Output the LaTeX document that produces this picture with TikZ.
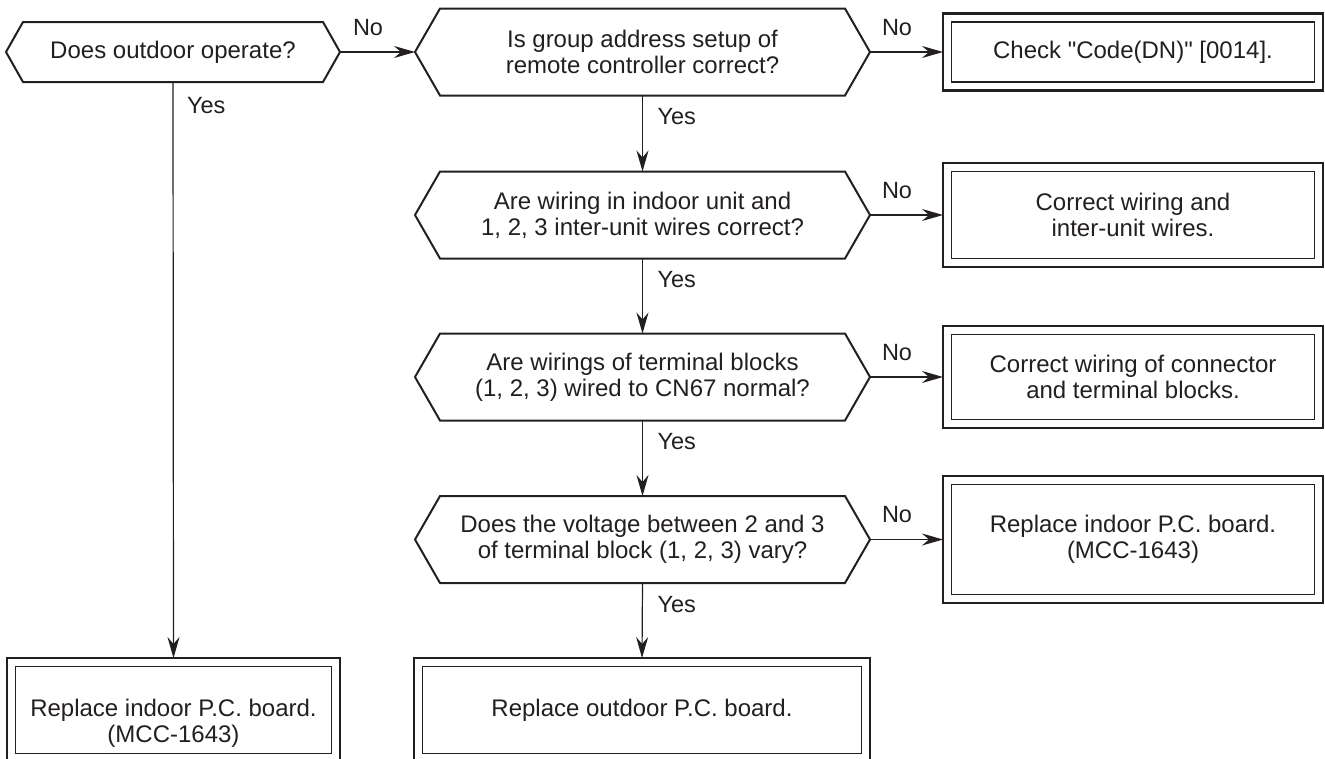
\documentclass[tikz,border=0pt]{standalone}
\usepackage{fontspec}
\setmainfont{Liberation Sans}
\usetikzlibrary{arrows.meta}
\definecolor{ink}{HTML}{231F20}
\begin{document}
\begin{tikzpicture}[x=1pt,y=-1pt,
  every node/.style={font=\fontsize{24}{26}\selectfont, text=ink, align=center, outer sep=0pt},
  decbox/.style={minimum width=455pt, minimum height=87pt, inner sep=0pt},
  decline/.style={draw=ink, line width=2pt, line join=miter},
  outbox/.style={draw=ink, line width=2.5pt, inner sep=0pt, minimum width=380pt},
  inline/.style={draw=ink, line width=1.1pt},
  conn/.style={draw=ink, line width=1.2pt, -{Stealth[length=21pt,width=12pt,inset=7pt]}},
  lab/.style={anchor=base west, inner sep=0pt, font=\fontsize{23.5}{26}\selectfont},
]
\clip (0,0) rectangle (1325,758);
\fill[white] (0,0) rectangle (1325,758);

% decisions
\node[decbox, minimum width=334pt, minimum height=60pt] (d1) at (173,52) {Does outdoor operate?};
\node[decbox] (d2) at (642.5,52) {Is group address setup of\\remote controller correct?};
\node[decbox] (d3) at (642.5,215) {Are wiring in indoor unit and\\1, 2, 3 inter-unit wires correct?};
\node[decbox] (d4) at (642.5,377) {Are wirings of terminal blocks\\(1, 2, 3) wired to CN67 normal?};
\node[decbox] (d5) at (642.5,539.5) {Does the voltage between 2 and 3\\of terminal block (1, 2, 3) vary?};

\foreach \n/\i in {d1/17,d2/25,d3/25,d4/25,d5/25}
  \draw[decline] (\n.west) -- ([xshift=\i pt]\n.north west) -- ([xshift=-\i pt]\n.north east)
    -- (\n.east) -- ([xshift=-\i pt]\n.south east) -- ([xshift=\i pt]\n.south west) -- cycle;

% boxes
\node[outbox, minimum height=77pt] (b1) at (1133,52) {Check \textquotedbl Code(DN)\textquotedbl\ [0014].};
\node[outbox, minimum height=104pt] (b2) at (1133,215) {Correct wiring and\\inter-unit wires.};
\node[outbox, minimum height=102pt] (b3) at (1133,377) {Correct wiring of connector\\and terminal blocks.};
\node[outbox, minimum height=127pt] (b4) at (1133,539.5) {Replace indoor P.C. board.\\(MCC-1643)};
\node[outbox, minimum width=333pt, minimum height=104pt] (b5) at (173.5,710) {};
\node (t5) at (173.5,723) {Replace indoor P.C. board.\\(MCC-1643)};
\node[outbox, minimum width=456pt, minimum height=104pt] (b6) at (642,710) {Replace outdoor P.C. board.};

\foreach \n in {b1,b2,b3,b4,b5,b6}
  \draw[inline] ([shift={(8.5pt,-8.5pt)}]\n.north west) rectangle ([shift={(-8.5pt,8.5pt)}]\n.south east);

% connectors
\draw[conn] (d1.east) -- (d2.west);
\draw[conn] (d2.east) -- (b1.west);
\draw[conn] (d3.east) -- (b2.west);
\draw[conn] (d4.east) -- (b3.west);
\draw[conn] (d5.east) -- (b4.west);
\draw[conn] (d1.south) -- (b5.north);
\draw[conn] (d2.south) -- (d3.north);
\draw[conn] (d3.south) -- (d4.north);
\draw[conn] (d4.south) -- (d5.north);
\draw[conn] (d5.south) -- (b6.north);

% labels
\node[lab] (n1) at ([shift={(13pt,17pt)}]d1.east) {No};
\node[lab] (n2) at ([shift={(12pt,17pt)}]d2.east) {No};
\node[lab] (n3) at ([shift={(12pt,17pt)}]d3.east) {No};
\node[lab] (n4) at ([shift={(12pt,17pt)}]d4.east) {No};
\node[lab] (n5) at ([shift={(12pt,17pt)}]d5.east) {No};
\node[lab] (y1) at ([shift={(14pt,-31pt)}]d1.south) {Yes};
\node[lab] (y2) at ([shift={(15pt,-29pt)}]d2.south) {Yes};
\node[lab] (y3) at ([shift={(15pt,-29pt)}]d3.south) {Yes};
\node[lab] (y4) at ([shift={(15pt,-29pt)}]d4.south) {Yes};
\node[lab] (y5) at ([shift={(15pt,-29pt)}]d5.south) {Yes};
\end{tikzpicture}
\end{document}
